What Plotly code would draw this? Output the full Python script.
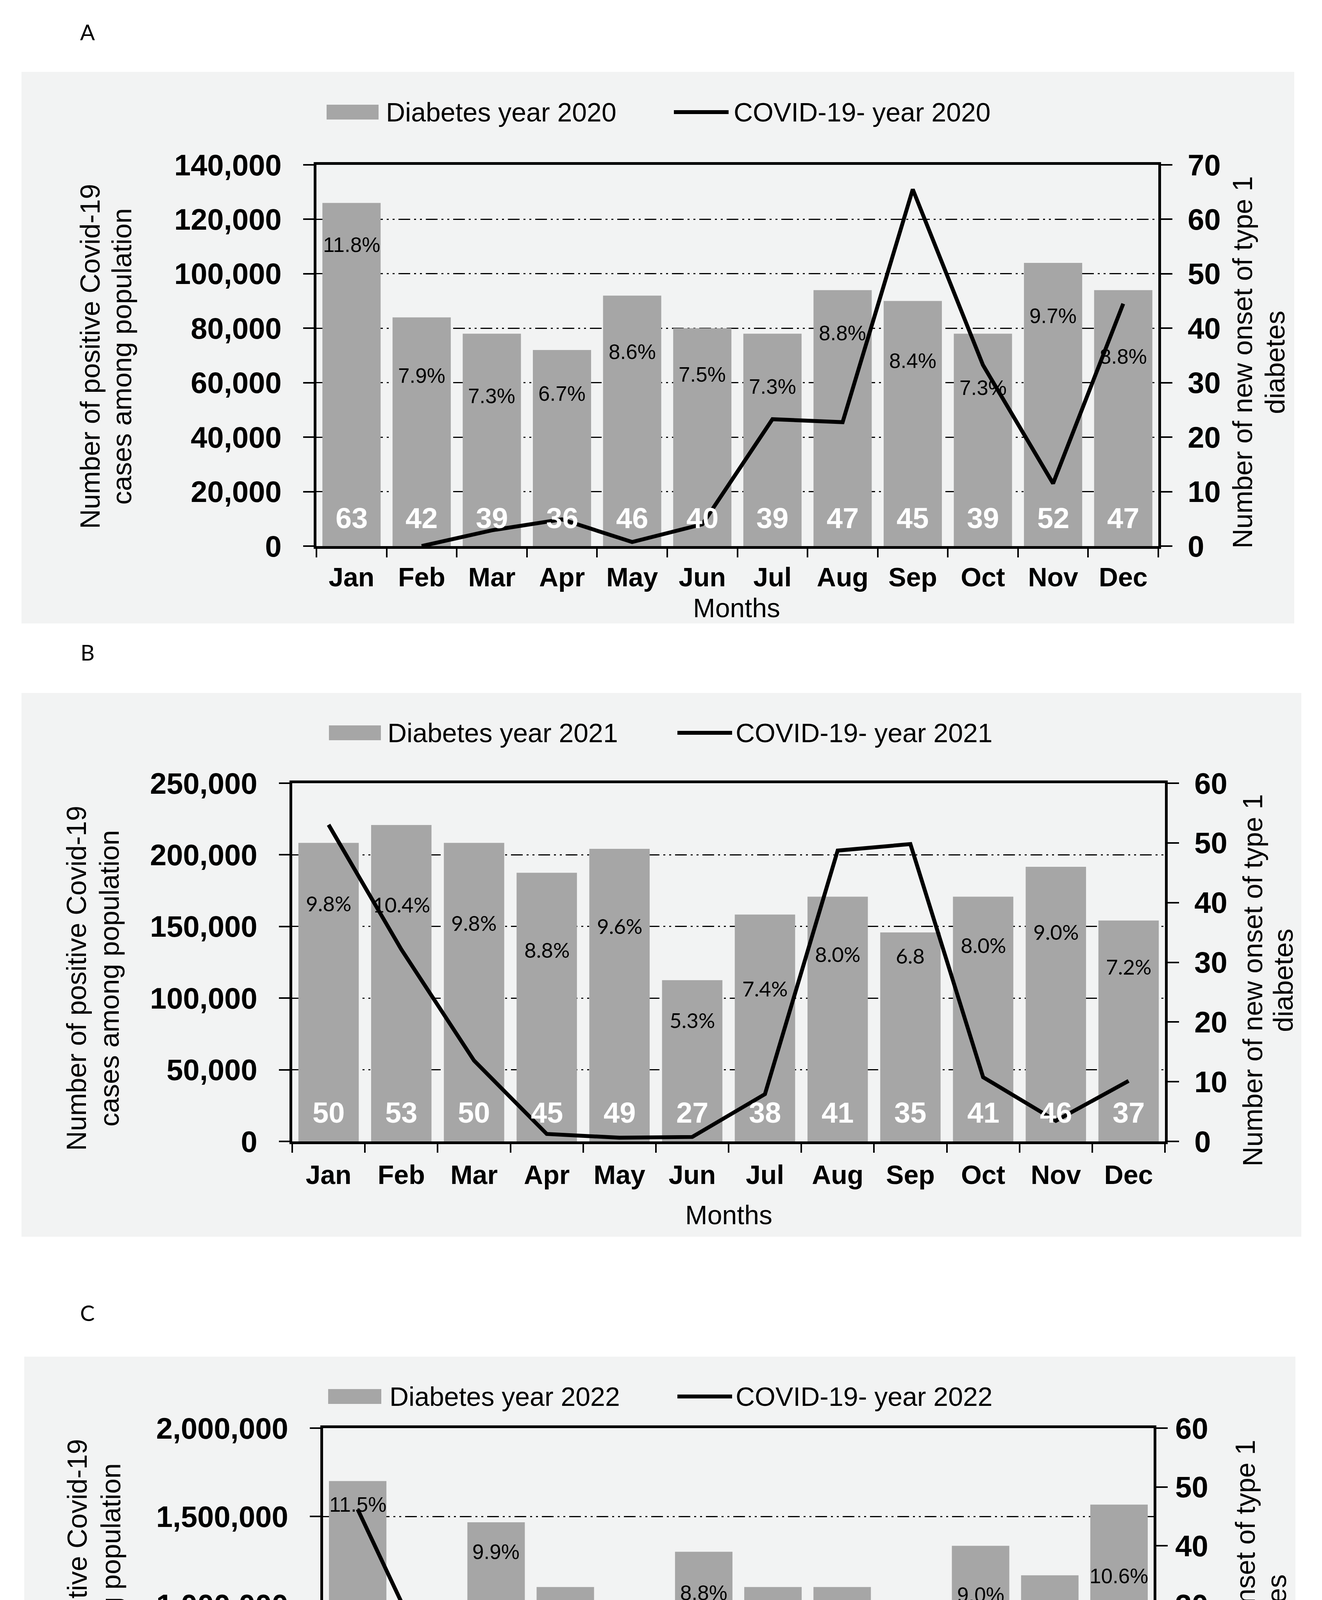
import plotly.graph_objects as go

# ---------------- data ----------------
months = ["Jan", "Feb", "Mar", "Apr", "May", "Jun", "Jul", "Aug", "Sep", "Oct", "Nov", "Dec"]

diabetes_2020 = [63, 42, 39, 36, 46, 40, 39, 47, 45, 39, 52, 47]
covid_2020 = [None, 0, 5800, 9800, 1500, 8000, 46600, 45500, 131000, 66500, 23000, 89000]
pct_2020 = ["11.8%", "7.9%", "7.3%", "6.7%", "8.6%", "7.5%", "7.3%", "8.8%", "8.4%", "7.3%", "9.7%", "8.8%"]

diabetes_2021 = [50, 53, 50, 45, 49, 27, 38, 41, 35, 41, 46, 37]
covid_2021 = [221000, 134000, 56400, 5200, 2600, 3100, 33000, 203000, 207500, 44800, 14400, 42200]
pct_2021 = ["9.8%", "10.4%", "9.8%", "8.8%", "9.6%", "5.3%", "7.4%", "8.0%", "6.8", "8.0%", "9.0%", "7.2%"]

diabetes_2022 = [51, 28, 44, 33, 30, 39, 33, 33, 30, 40, 35, 47]
covid_2022 = [1540000, 708000, 280000, 153000, 63000, 217000, 232000, 53000, 28500, 24300, 39000, 42300]
pct_2022 = ["11.5%", "6.3%", "9.9%", "7.5%", "6.8%", "8.8%", "7.5%", "7.5%", "6.8%", "9.0%", "7.9%", "10.6%"]

# ---------------- layout helpers (positions, not data) ----------------
W, H = 3384, 4855
BAR = "#a6a6a6"
PANEL_BG = "#f2f3f3"
ARIAL = "Liberation Sans, Arial, sans-serif"


def px(x):
    return x / W


def py(y):
    return 1 - y / H


panels = [
    dict(letter="A", year="2020", diab=diabetes_2020, covid=covid_2020, pct=pct_2020,
         pct_y=[55.3, 31.3, 27.6, 28.0, 35.7, 31.5, 29.3, 39.1, 34.0, 29.1, 42.3, 34.8],
         pct_font="Liberation Sans, Arial, sans-serif", cnt_y=5.1,
         lmax=140000, ldt=20000, rmax=70,
         plot=(802, 414, 2957, 1390), bg=(47, 176, 3305, 1588),
         letter_xy=(216, 74), leg_y=279, leg=(828, 961, 978, 1717, 1857, 1868),
         ltitle=(223, 304, 905), rtitle=(3173, 3256, 920), months_xy=(1877, 1548),
         rstand=24, xstand=14),
    dict(letter="B", year="2021", diab=diabetes_2021, covid=covid_2021, pct=pct_2021,
         pct_y=[39.9, 39.7, 36.6, 32.1, 36.1, 20.3, 25.6, 31.4, 31.1, 32.9, 35.1, 29.3],
         pct_font="Lato, Open Sans, sans-serif", cnt_y=4.8,
         lmax=250000, ldt=50000, rmax=60,
         plot=(740, 1997, 2974, 2914), bg=(47, 1766, 3323, 3158),
         letter_xy=(216, 1661), leg_y=1868, leg=(834, 967, 982, 1726, 1866, 1873),
         ltitle=(188, 272, 2497), rtitle=(3199, 3277, 2502), months_xy=(1857, 3102),
         rstand=24, xstand=20),
    dict(letter="C", year="2022", diab=diabetes_2022, covid=covid_2022, pct=pct_2022,
         pct_y=[47.0, 20.2, 39.0, 27.5, 23.2, 32.0, 27.0, 26.7, 24.4, 31.7, 29.3, 34.9],
         pct_font="Liberation Sans, Arial, sans-serif", cnt_y=4.9,
         lmax=2000000, ldt=500000, rmax=60,
         plot=(819, 3648, 2945, 4552), bg=(54, 3465, 3308, 4798),
         letter_xy=(216, 3352), leg_y=3567, leg=(832, 968, 987, 1726, 1866, 1873),
         ltitle=(190, 276, 4118), rtitle=(3180, 3260, 4155), months_xy=(1877, 4739),
         rstand=4, xstand=20),
]

fig = go.Figure()
shapes = []
annotations = []
layout_axes = {}

for i, p in enumerate(panels):
    n = i + 1
    xid = "x" if n == 1 else f"x{n}"
    yr_id = "y" if n == 1 else f"y{2 * n - 1}"
    yl_id = f"y{2 * n}"
    xname = "xaxis" if n == 1 else f"xaxis{n}"
    yrname = "yaxis" if n == 1 else f"yaxis{2 * n - 1}"
    ylname = f"yaxis{2 * n}"

    x0, y0, x1, y1 = p["plot"]

    fig.add_trace(go.Bar(x=months, y=p["diab"], xaxis=xid, yaxis=yr_id,
                         marker=dict(color=BAR, line=dict(width=0)),
                         name=f"Diabetes year {p['year']}", showlegend=False,
                         hoverinfo="skip"))
    fig.add_trace(go.Scatter(x=months, y=p["covid"], xaxis=xid, yaxis=yl_id,
                             mode="lines", line=dict(color="black", width=10),
                             name=f"COVID-19- year {p['year']}", showlegend=False,
                             connectgaps=False, hoverinfo="skip"))

    layout_axes[xname] = dict(
        domain=[px(x0), px(x1)], anchor=yr_id, type="category",
        categoryorder="array", categoryarray=months, range=[-0.5, 11.5],
        showline=True, linecolor="black", linewidth=7, mirror=True,
        ticks="outside", tickson="boundaries", ticklen=22, tickwidth=4, tickcolor="black",
        ticklabelstandoff=p["xstand"],
        tickfont=dict(family=ARIAL, size=68, color="black", weight="bold"),
        showgrid=False, zeroline=False, automargin=False, fixedrange=True)
    layout_axes[yrname] = dict(
        domain=[py(y1), py(y0)], anchor=xid, side="right",
        range=[0, p["rmax"]], tick0=0, dtick=10,
        showline=True, linecolor="black", linewidth=7,
        ticks="outside", ticklen=29, tickwidth=4, tickcolor="black",
        ticklabelstandoff=p["rstand"],
        tickfont=dict(family=ARIAL, size=76, color="black", weight="bold"),
        showgrid=False, zeroline=False, automargin=False, fixedrange=True)
    layout_axes[ylname] = dict(
        overlaying=yr_id, anchor=xid, side="left",
        range=[0, p["lmax"]], tick0=0, dtick=p["ldt"], tickformat=",",
        showline=True, linecolor="black", linewidth=7,
        ticks="outside", ticklen=27, tickwidth=4, tickcolor="black",
        ticklabelstandoff=40,
        tickfont=dict(family=ARIAL, size=76, color="black", weight="bold"),
        showgrid=True, gridcolor="black", gridwidth=3,
        griddash="30px,10px,5px,10px,5px,10px",
        zeroline=False, automargin=False, fixedrange=True)

    # panel background
    bx0, by0, bx1, by1 = p["bg"]
    shapes.append(dict(type="rect", xref="paper", yref="paper", layer="below",
                       x0=px(bx0), x1=px(bx1), y0=py(by1), y1=py(by0),
                       fillcolor=PANEL_BG, line=dict(width=0)))

    # legend (drawn manually to match the reference proportions)
    sw0, sw1, t1, l0, l1, t2 = p["leg"]
    ly = p["leg_y"]
    shapes.append(dict(type="rect", xref="paper", yref="paper",
                       x0=px(sw0), x1=px(sw1), y0=py(ly + 19), y1=py(ly - 19),
                       fillcolor=BAR, line=dict(width=0)))
    shapes.append(dict(type="line", xref="paper", yref="paper",
                       x0=px(l0), x1=px(l1), y0=py(ly), y1=py(ly),
                       line=dict(color="black", width=10)))
    annotations.append(dict(xref="paper", yref="paper", x=px(t1), y=py(ly),
                            xanchor="left", yanchor="middle", showarrow=False,
                            text=f"Diabetes year {p['year']}",
                            font=dict(family=ARIAL, size=68, color="black")))
    annotations.append(dict(xref="paper", yref="paper", x=px(t2), y=py(ly),
                            xanchor="left", yanchor="middle", showarrow=False,
                            text=f"COVID-19- year {p['year']}",
                            font=dict(family=ARIAL, size=68, color="black")))

    # panel letter
    lx, lyy = p["letter_xy"]
    annotations.append(dict(xref="paper", yref="paper", x=px(lx), y=py(lyy),
                            xanchor="center", yanchor="middle", showarrow=False,
                            text=p["letter"],
                            font=dict(family="Lato, sans-serif", size=56, color="black")))

    # axis titles
    a1, a2, ay = p["ltitle"]
    for xx, txt in ((a1, "Number of positive Covid-19"), (a2, "cases among population")):
        annotations.append(dict(xref="paper", yref="paper", x=px(xx), y=py(ay),
                                xanchor="center", yanchor="middle", showarrow=False,
                                textangle=-90, text=txt,
                                font=dict(family=ARIAL, size=70, color="black")))
    r1, r2, ry = p["rtitle"]
    for xx, txt in ((r1, "Number of new onset of type 1"), (r2, "diabetes")):
        annotations.append(dict(xref="paper", yref="paper", x=px(xx), y=py(ry),
                                xanchor="center", yanchor="middle", showarrow=False,
                                textangle=-90, text=txt,
                                font=dict(family=ARIAL, size=70, color="black")))
    mx, my = p["months_xy"]
    annotations.append(dict(xref="paper", yref="paper", x=px(mx), y=py(my),
                            xanchor="center", yanchor="middle", showarrow=False,
                            text="Months", font=dict(family=ARIAL, size=68, color="black")))

    # value labels inside bars
    for m, v, t, ty in zip(months, p["diab"], p["pct"], p["pct_y"]):
        annotations.append(dict(xref=xid, yref=yr_id, x=m, y=p["cnt_y"],
                                xanchor="center", yanchor="middle", showarrow=False,
                                text=f"<b>{v}</b>",
                                font=dict(family=ARIAL, size=74, color="white")))
        annotations.append(dict(xref=xid, yref=yr_id, x=m, y=ty,
                                xanchor="center", yanchor="middle", showarrow=False,
                                text=t, font=dict(family=p["pct_font"], size=53, color="black")))

fig.update_layout(
    width=W, height=H,
    margin=dict(l=0, r=0, t=0, b=0, pad=0),
    paper_bgcolor="white", plot_bgcolor="white",
    bargap=0.17, showlegend=False,
    shapes=shapes, annotations=annotations,
    **layout_axes,
)

fig.write_html("out.html")
